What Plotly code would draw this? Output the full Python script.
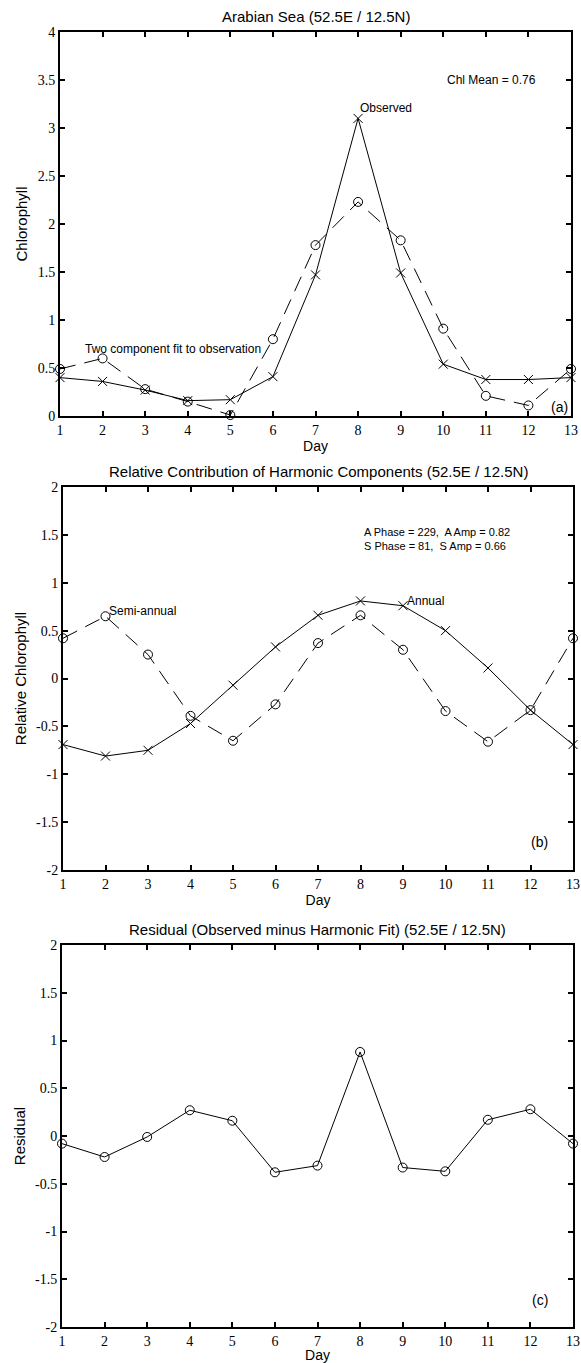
import plotly.graph_objects as go

# ---------------- data ----------------
days = list(range(1, 14))
x_ticks = list(range(1, 14))

observed = [0.40, 0.36, 0.27, 0.16, 0.17, 0.41, 1.47, 3.10, 1.49, 0.54, 0.38, 0.38, 0.40]
fit = [0.49, 0.60, 0.28, 0.15, 0.01, 0.80, 1.78, 2.23, 1.83, 0.91, 0.21, 0.11, 0.49]

annual = [-0.69, -0.81, -0.75, -0.47, -0.07, 0.33, 0.66, 0.81, 0.76, 0.50, 0.11, -0.33, -0.69]
semi_annual = [0.42, 0.65, 0.25, -0.39, -0.65, -0.27, 0.37, 0.66, 0.30, -0.34, -0.66, -0.33, 0.42]

residual = [-0.08, -0.22, -0.01, 0.27, 0.16, -0.38, -0.31, 0.88, -0.33, -0.37, 0.17, 0.28, -0.08]

ticks_a = [0, 0.5, 1, 1.5, 2, 2.5, 3, 3.5, 4]
ticklabels_a = ["0", "0.5", "1", "1.5", "2", "2.5", "3", "3.5", "4"]
ticks_bc = [-2, -1.5, -1, -0.5, 0, 0.5, 1, 1.5, 2]
ticklabels_bc = ["-2", "-1.5", "-1", "-0.5", "0", "0.5", "1", "1.5", "2"]

W, H = 581, 1363

# panel pixel boxes (left, right, top, bottom)
boxes = {
    "a": (60, 571, 32, 416),
    "b": (63, 573, 487, 870),
    "c": (62, 573, 945, 1327),
}

def xdom(b):
    return [b[0] / W, b[1] / W]

def ydom(b):
    return [1 - b[3] / H, 1 - b[2] / H]

SANS = "Liberation Sans, Arial, sans-serif"
SERIF = "Liberation Serif, Times New Roman, serif"

fig = go.Figure()

line_solid = dict(color="black", width=1)
line_dash = dict(color="black", width=1, dash="16px,9px")
mk_x = dict(symbol="x-thin-open", size=9, color="black", line=dict(color="black", width=1))
mk_o = dict(symbol="circle-open", size=9, color="black", line=dict(color="black", width=1))

# panel a
fig.add_trace(go.Scatter(x=days, y=observed, mode="lines+markers", line=line_solid,
                         marker=mk_x, xaxis="x", yaxis="y", cliponaxis=False, showlegend=False,
                         name="Observed"))
fig.add_trace(go.Scatter(x=days, y=fit, mode="lines+markers", line=line_dash,
                         marker=mk_o, xaxis="x", yaxis="y", cliponaxis=False, showlegend=False,
                         name="Two component fit"))
# panel b
fig.add_trace(go.Scatter(x=days, y=annual, mode="lines+markers", line=line_solid,
                         marker=mk_x, xaxis="x2", yaxis="y2", cliponaxis=False, showlegend=False,
                         name="Annual"))
fig.add_trace(go.Scatter(x=days, y=semi_annual, mode="lines+markers", line=line_dash,
                         marker=mk_o, xaxis="x2", yaxis="y2", cliponaxis=False, showlegend=False,
                         name="Semi-annual"))
# panel c
fig.add_trace(go.Scatter(x=days, y=residual, mode="lines+markers", line=line_solid,
                         marker=mk_o, xaxis="x3", yaxis="y3", cliponaxis=False, showlegend=False,
                         name="Residual"))

def xaxis_cfg(box, anchor):
    return dict(domain=xdom(box), anchor=anchor, range=[1, 13], tickmode="array",
                tickvals=x_ticks, ticktext=[str(t) for t in x_ticks],
                ticks="inside", ticklen=5, tickwidth=2, tickcolor="black",
                showline=True, linecolor="black", linewidth=2, mirror="ticks",
                showgrid=False, zeroline=False, automargin=False,
                tickfont=dict(family=SERIF, size=14, color="black"),
                title=dict(text="Day", font=dict(family=SANS, size=14, color="black"), standoff=1))

def yaxis_cfg(box, anchor, rng, tv, tt, title):
    return dict(domain=ydom(box), anchor=anchor, range=rng, tickmode="array",
                tickvals=tv, ticktext=tt,
                ticks="inside", ticklen=5, tickwidth=2, tickcolor="black",
                showline=True, linecolor="black", linewidth=2, mirror="ticks",
                showgrid=False, zeroline=False, automargin=False,
                tickfont=dict(family=SERIF, size=14, color="black"),
                title=dict(text=title, font=dict(family=SANS, size=15, color="black"), standoff=6))

fig.update_layout(
    width=W, height=H,
    margin=dict(l=0, r=0, t=0, b=0),
    paper_bgcolor="white", plot_bgcolor="white",
    xaxis=xaxis_cfg(boxes["a"], "y"),
    yaxis=yaxis_cfg(boxes["a"], "x", [0, 4], ticks_a, ticklabels_a, "Chlorophyll"),
    xaxis2=xaxis_cfg(boxes["b"], "y2"),
    yaxis2=yaxis_cfg(boxes["b"], "x2", [-2, 2], ticks_bc, ticklabels_bc, "Relative Chlorophyll"),
    xaxis3=xaxis_cfg(boxes["c"], "y3"),
    yaxis3=yaxis_cfg(boxes["c"], "x3", [-2, 2], ticks_bc, ticklabels_bc, "Residual"),
)

titles = [
    ("a", "Arabian Sea (52.5E / 12.5N)"),
    ("b", "Relative Contribution of Harmonic Components (52.5E / 12.5N)"),
    ("c", "Residual (Observed minus Harmonic Fit) (52.5E / 12.5N)"),
]
for k, t in titles:
    b = boxes[k]
    fig.add_annotation(x=(b[0] + b[1]) / 2 / W, y=1 - (b[2] - 16) / H, xref="paper", yref="paper",
                       text=t, showarrow=False, xanchor="center", yanchor="middle",
                       font=dict(family=SANS, size=15, color="black"))

small = dict(family=SANS, size=12, color="black")
panel_lbl = dict(family=SANS, size=14, color="black")

# panel a annotations
fig.add_annotation(x=10.05, y=3.5, xref="x", yref="y", text="Chl Mean = 0.76", showarrow=False,
                   xanchor="left", yanchor="middle", font=small)
fig.add_annotation(x=8.0, y=3.21, xref="x", yref="y", text="Observed", showarrow=False,
                   xanchor="left", yanchor="middle", font=small)
fig.add_annotation(x=1.54, y=0.70, xref="x", yref="y", text="Two component fit to observation",
                   showarrow=False, xanchor="left", yanchor="middle", font=small)
fig.add_annotation(x=12.72, y=0.09, xref="x", yref="y", text="(a)", showarrow=False,
                   xanchor="center", yanchor="middle", font=panel_lbl)

# panel b annotations
fig.add_annotation(x=8.04, y=1.46, xref="x2", yref="y2",
                   text="A Phase = 229,  A Amp = 0.82<br>S Phase = 81,  S Amp = 0.66",
                   showarrow=False, xanchor="left", yanchor="middle", align="left",
                   font=dict(family=SANS, size=11, color="black"))
fig.add_annotation(x=2.04, y=0.70, xref="x2", yref="y2", text="Semi-annual", showarrow=False,
                   xanchor="left", yanchor="middle", font=small)
fig.add_annotation(x=9.04, y=0.81, xref="x2", yref="y2", text="Annual", showarrow=False,
                   xanchor="left", yanchor="middle", font=small)
fig.add_annotation(x=12.2, y=-1.71, xref="x2", yref="y2", text="(b)", showarrow=False,
                   xanchor="center", yanchor="middle", font=panel_lbl)

# panel c annotation
fig.add_annotation(x=12.22, y=-1.72, xref="x3", yref="y3", text="(c)", showarrow=False,
                   xanchor="center", yanchor="middle", font=panel_lbl)

# remove the default page margin so the 581x1363 figure fills the window exactly
fig.write_html("out.html",
               config={"displayModeBar": False},
               post_script="document.body.style.margin='0';document.body.style.overflow='hidden';")
